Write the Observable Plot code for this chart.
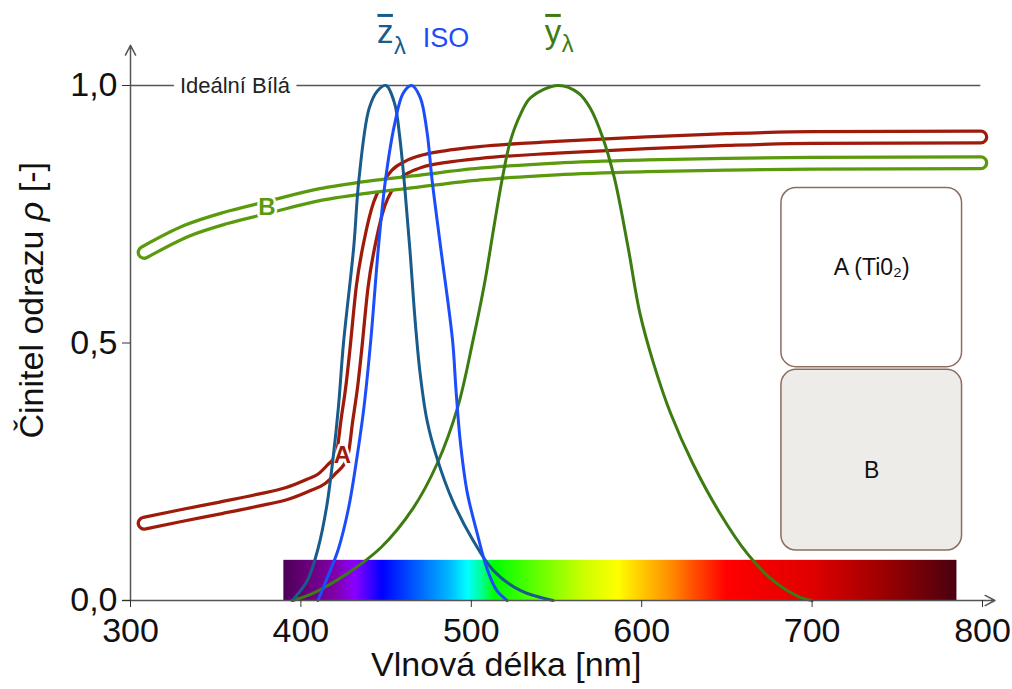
<!DOCTYPE html>
<html><head><meta charset="utf-8">
<script src="https://cdn.jsdelivr.net/npm/d3@7"></script>
<script src="https://cdn.jsdelivr.net/npm/@observablehq/plot@0.6"></script>
<style>body{margin:0;background:#fff}#chart{width:1012px;height:689px}</style>
</head><body><div id="chart"></div>
<script>
// ---------- data ----------
const zbarNm  = [395,400,404,410,415,419,422,425,431,434,440,445,450,455,458,461,464,467,470,474,480,489,501,513,529,548];
const zbarVal = [0,0.02,0.04,0.10,0.18,0.28,0.375,0.50,0.686,0.816,0.955,0.99,1.0,0.965,0.90,0.80,0.68,0.545,0.44,0.35,0.275,0.194,0.117,0.058,0.019,0];

const isoNm  = [410,415,422,428,433,437,441,445.5,449.6,455,460,465,470,474,477,482,489,491,493.5,497.6,503.5,509,515,521];
const isoVal = [0,0.04,0.10,0.18,0.28,0.375,0.505,0.686,0.816,0.925,0.985,1.0,0.977,0.91,0.816,0.686,0.505,0.41,0.31,0.21,0.13,0.064,0.019,0];

const ybarNm  = [395,407,427,447,466,480,492,501,508,513,518,523,529,535,551,563,570,577,584,592,599,607,617,630,646,662,677,693,700];
const ybarVal = [0,0.014,0.052,0.103,0.18,0.266,0.375,0.505,0.62,0.72,0.816,0.893,0.945,0.977,1.0,0.985,0.955,0.90,0.82,0.686,0.557,0.46,0.363,0.266,0.169,0.091,0.039,0.006,0];

const aNm  = [308,330,353,375,392,405,412,418,424,427,430,432,436,441,446,451,456,463,470,485,505,550,603,650,700,799];
const aVal = [0.15,0.165,0.18,0.195,0.208,0.225,0.236,0.255,0.28,0.35,0.42,0.48,0.61,0.705,0.77,0.805,0.828,0.843,0.852,0.862,0.870,0.88,0.889,0.895,0.899,0.90];

const bNm  = [308,333,356,380,411,440,466,505,550,603,650,700,799];
const bVal = [0.676,0.718,0.743,0.763,0.788,0.803,0.813,0.828,0.838,0.844,0.847,0.849,0.85];

const xTicks = [300,400,500,600,700,800];
const yTicks = [0,0.5,1];

const specNm  = [390,405,420,432,448,470,488,498,506,514,540,565,586,603,618,632,650,700,740,785];
const specCol = ["#4d0058","#6a007e","#7f00a8","#8a00ff","#0000ff","#0066ff","#00bbff","#00ffff","#00ff99","#00ff00","#66ff00","#c8ff00","#ffff00","#ffc000","#ff8a00","#ff4a00","#ff0000","#e00000","#a00000","#4a0010"];
const specTop = 0.078;

const legendNames = ["A (Ti0₂)", "B"];
const legendFills = ["#ffffff", "#eeece8"];

const idealLabel = "Ideální Bílá";
const xTitle = "Vlnová délka [nm]";
const yTitleParts = ["Činitel odrazu ", "ρ", " [-]"];
const yTitle = yTitleParts.join("");

// ---------- style ----------
const FONT = "'Liberation Sans', Arial, Helvetica, sans-serif";
const RED = "#9e1b0b", BGREEN = "#5b9a0c", YCOL = "#3d7c11", ZCOL = "#195b8b", ISOCOL = "#1c4dfb";
const AXIS = "#555";

const zip = (xs, ys) => xs.map((x, i) => ({nm: x, v: ys[i]}));
const zbar = zip(zbarNm, zbarVal), iso = zip(isoNm, isoVal), ybar = zip(ybarNm, ybarVal);
const A = zip(aNm, aVal), B = zip(bNm, bVal);

const fmt = d => d3.format(".1f")(d).replace(".", ",");

const legendBoxes = legendNames.map((name, i) => ({
  name, fill: legendFills[i],
  x1: 682, x2: 788,
  y1: i === 0 ? 0.453 : 0.097,
  y2: i === 0 ? 0.801 : 0.448
}));

const outline = (data, color) => [
  Plot.line(data, {x: "nm", y: "v", stroke: color, strokeWidth: 15, strokeLinecap: "round", strokeLinejoin: "round", curve: "monotone-x"}),
  Plot.line(data, {x: "nm", y: "v", stroke: "white", strokeWidth: 8.5, strokeLinecap: "round", strokeLinejoin: "round", curve: "monotone-x"})
];

const plot = Plot.plot({
  width: 1012, height: 689,
  marginLeft: 130, marginRight: 30, marginTop: 85, marginBottom: 89,
  x: {domain: [300, 800]},
  y: {domain: [0, 1]},
  style: {fontFamily: FONT, background: "white", overflow: "visible", color: "#111"},
  marks: [
    Plot.rect([{x1: specNm[0], x2: specNm[specNm.length - 1], y1: 0, y2: specTop}],
      {x1: "x1", x2: "x2", y1: "y1", y2: "y2", fill: "url(#spectrum)"}),
    Plot.ruleY([{y: 1, x1: 300, x2: 799}], {y: "y", x1: "x1", x2: "x2", stroke: AXIS, strokeWidth: 1.5}),
    Plot.text([{x: 329, y: 1, t: idealLabel}], {x: "x", y: "y", text: "t", textAnchor: "start", fontSize: 22,
      fill: "#222", stroke: "white", strokeWidth: 16, paintOrder: "stroke"}),
    Plot.rect(legendBoxes, {x1: "x1", x2: "x2", y1: "y1", y2: "y2", fill: "fill", stroke: "#8b6d5e", strokeWidth: 1.5, rx: 15}),
    Plot.text(legendBoxes, {x: d => (d.x1 + d.x2) / 2, y: d => (d.y1 + d.y2) / 2 + (d.name === "B" ? -0.02 : 0.02), text: "name", fontSize: 23, fill: "#111"}),
    ...outline(A, RED),
    ...outline(B, BGREEN),
    Plot.text([{nm: 424.3, v: 0.282, t: "A"}], {x: "nm", y: "v", text: "t", fontSize: 24, fontWeight: "bold", fill: RED, stroke: "white", strokeWidth: 5, paintOrder: "stroke"}),
    Plot.text([{nm: 380, v: 0.763, t: "B"}], {x: "nm", y: "v", text: "t", fontSize: 24, fontWeight: "bold", fill: BGREEN, stroke: "white", strokeWidth: 5, paintOrder: "stroke"}),
    Plot.line(ybar, {x: "nm", y: "v", stroke: YCOL, strokeWidth: 3, curve: "catmull-rom"}),
    Plot.line(zbar, {x: "nm", y: "v", stroke: ZCOL, strokeWidth: 3, curve: "catmull-rom"}),
    Plot.line(iso, {x: "nm", y: "v", stroke: ISOCOL, strokeWidth: 3, curve: "catmull-rom"}),
    Plot.arrow([{x1: 300, y1: 0, x2: 300, y2: 1.078}], {x1: "x1", y1: "y1", x2: "x2", y2: "y2", stroke: AXIS, strokeWidth: 1.5, headLength: 11, headAngle: 55, insetStart: 0, insetEnd: 0}),
    Plot.arrow([{x1: 295.3, y1: 0, x2: 807.3, y2: 0}], {x1: "x1", y1: "y1", x2: "x2", y2: "y2", stroke: AXIS, strokeWidth: 1.5, headLength: 11, headAngle: 55, insetStart: 0, insetEnd: 0}),
    Plot.axisX({ticks: xTicks, tickSize: 7, tickPadding: 10, fontSize: 34, label: null, stroke: "#333", fill: "#111"}),
    Plot.axisY({ticks: yTicks, tickSize: 8, tickPadding: 5, tickFormat: fmt, fontSize: 34, label: null, stroke: "#333", fill: "#111"}),
    Plot.text([{x: 520.5, y: -0.126, t: xTitle}], {x: "x", y: "y", text: "t", fontSize: 34, fill: "#111"}),
    Plot.text([{x: 242.5, y: 0.583, t: yTitle}], {x: "x", y: "y", text: "t", fontSize: 34, rotate: -90, fill: "#111"})
  ]
});
document.getElementById("chart").appendChild(plot);

// ---------- gradient + rich labels, positioned with Plot's scales ----------
const svg = d3.select(plot);
const sx = plot.scale("x"), sy = plot.scale("y");
const X = d3.scaleLinear(sx.domain, sx.range), Y = d3.scaleLinear(sy.domain, sy.range);

const defs = svg.insert("defs", ":first-child");
const grad = defs.append("linearGradient").attr("id", "spectrum").attr("x1", "0").attr("x2", "1").attr("y1", "0").attr("y2", "0");
const s0 = specNm[0], s1 = specNm[specNm.length - 1];
specNm.forEach((nm, i) => grad.append("stop").attr("offset", (nm - s0) / (s1 - s0)).attr("stop-color", specCol[i]));

// italic rho in the y title
svg.selectAll("text").filter(function () { return this.textContent === yTitle; }).each(function () {
  const t = d3.select(this);
  t.text(null);
  yTitleParts.forEach((p, i) => t.append("tspan").attr("font-style", i === 1 ? "italic" : null).text(p));
});

const topLabels = [
  {nm: 444.9, base: 1.0816, main: "z", sub: "λ", bar: true, color: ZCOL, size: 33, subDrop: 11},
  {nm: 471.8, base: 1.0735, main: "ISO", sub: "", bar: false, color: ISOCOL, size: 27, subDrop: 0},
  {nm: 543.4, base: 1.0816, main: "y", sub: "λ", bar: true, color: YCOL, size: 33, subDrop: 9}
];
const g = svg.append("g").attr("font-family", FONT).attr("text-anchor", "start");
topLabels.forEach(l => {
  const x0 = X(l.nm), y0 = Y(l.base);
  const t = g.append("text").attr("x", x0).attr("y", y0).attr("fill", l.color).attr("font-size", l.size).text(l.main);
  const w = t.node().getComputedTextLength();
  if (l.bar) g.append("rect").attr("x", x0 + 0.5).attr("y", y0 - l.size * 0.88).attr("width", w - 1).attr("height", 3).attr("fill", l.color);
  if (l.sub) g.append("text").attr("x", x0 + w + 0.5).attr("y", y0 + l.subDrop).attr("fill", l.color).attr("font-size", l.size * 0.72).text(l.sub);
});
</script>
</body></html>
